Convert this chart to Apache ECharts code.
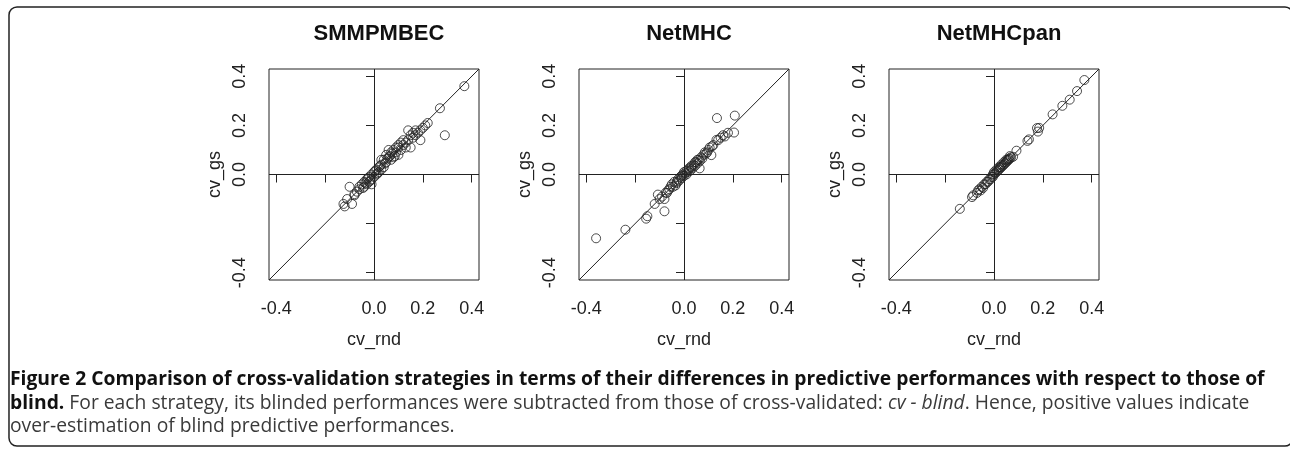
<!DOCTYPE html>
<html>
<head>
<meta charset="utf-8">
<script src="https://cdn.jsdelivr.net/npm/echarts@6/dist/echarts.min.js"></script>
<style>
html,body{margin:0;padding:0;background:#fff;}
#chart{width:1290px;height:450px;}
</style>
</head>
<body>
<div id="chart"></div>
<script>
// ---- data ----
const panelTitles = ['SMMPMBEC', 'NetMHC', 'NetMHCpan'];
const xAxisName = 'cv_rnd';
const yAxisName = 'cv_gs';
const axisMin = -0.43, axisMax = 0.43;
const tickValues = [-0.4, -0.2, 0, 0.2, 0.4];
const tickLabelValues = [-0.4, 0, 0.2, 0.4];

// SMMPMBEC: cv_rnd (x) vs cv_gs (y)
const smmpmbecRnd = [0.37,0.27,0.29,0.22,0.21,0.20,0.19,0.14,0.16,0.17,0.18,0.15,0.16,0.19,0.15,0.13,0.14,0.12,0.11,0.10,0.09,0.08,0.06,0.07,0.08,0.07,0.06,0.05,0.05,0.04,0.03,0.04,0.03,0.02,0.02,0.01,0.01,0.00,0.00,-0.01,-0.01,-0.02,-0.02,-0.03,-0.03,-0.04,-0.04,-0.05,-0.01,-0.06,-0.06,-0.07,-0.08,-0.10,-0.08,-0.11,-0.09,-0.12,-0.125,0.12,0.10,0.09,0.03,0.015,0.005,0.025,0.045,0.055,0.065,0.075,0.085,-0.015,-0.025,-0.035,-0.045,0.11,0.13,0.17,0.10];
const smmpmbecGs  = [0.36,0.27,0.16,0.21,0.20,0.19,0.18,0.18,0.17,0.18,0.17,0.16,0.15,0.14,0.11,0.13,0.14,0.12,0.10,0.11,0.09,0.10,0.10,0.09,0.07,0.06,0.07,0.08,0.05,0.06,0.06,0.03,0.04,0.03,0.01,0.02,0.00,0.01,-0.01,0.00,-0.02,-0.01,-0.03,-0.02,-0.04,-0.03,-0.05,-0.04,-0.04,-0.06,-0.05,-0.07,-0.08,-0.05,-0.085,-0.10,-0.12,-0.13,-0.12,0.14,0.08,0.11,0.02,0.005,0.015,0.035,0.045,0.065,0.075,0.085,0.075,-0.025,-0.015,-0.035,-0.055,0.13,0.11,0.16,0.12];

// NetMHC
const netmhcRnd = [-0.36,-0.24,-0.155,-0.15,-0.12,-0.107,-0.10,-0.08,-0.08,-0.075,-0.06,-0.05,-0.045,-0.04,-0.035,-0.03,-0.025,-0.02,-0.015,-0.01,-0.005,0.0,0.005,0.01,0.01,0.015,0.02,0.025,0.03,0.035,0.04,0.045,0.05,0.055,0.06,0.065,0.07,0.064,0.08,0.09,0.10,0.112,0.105,0.12,0.133,0.14,0.135,0.167,0.18,0.205,0.208,-0.065,-0.055,-0.07,-0.09,0.075,0.085,0.095,0.03,-0.01,0.0,0.02,0.045,0.055,-0.03,0.115,0.15,0.16];
const netmhcGs  = [-0.26,-0.225,-0.18,-0.17,-0.12,-0.082,-0.10,-0.15,-0.10,-0.074,-0.06,-0.04,-0.05,-0.03,-0.045,-0.03,-0.02,-0.025,-0.01,-0.015,0.0,-0.005,0.005,0.0,0.015,0.01,0.02,0.015,0.03,0.025,0.04,0.035,0.05,0.045,0.06,0.055,0.07,0.025,0.08,0.085,0.10,0.079,0.11,0.12,0.141,0.14,0.23,0.155,0.17,0.171,0.24,-0.065,-0.05,-0.075,-0.09,0.065,0.09,0.09,0.035,-0.005,0.01,0.025,0.05,0.06,-0.035,0.115,0.15,0.16];

// NetMHCpan
const netmhcpanRnd = [-0.14,-0.09,-0.085,-0.06,-0.055,-0.05,-0.045,-0.04,-0.035,-0.03,-0.025,-0.02,-0.015,-0.01,-0.005,0.0,0.0,0.005,0.01,0.01,0.015,0.02,0.02,0.025,0.03,0.03,0.035,0.04,0.04,0.045,0.05,0.05,0.055,0.06,0.065,0.07,0.078,0.092,0.137,0.143,0.176,0.18,0.185,0.24,0.28,0.31,0.34,0.37,-0.065,-0.07,0.065,0.06,-0.005,0.025,0.055];
const netmhcpanGs  = [-0.14,-0.092,-0.085,-0.06,-0.065,-0.05,-0.055,-0.04,-0.04,-0.03,-0.03,-0.02,-0.02,-0.01,-0.01,0.0,0.01,0.005,0.01,0.02,0.015,0.02,0.03,0.025,0.03,0.04,0.035,0.04,0.05,0.045,0.05,0.06,0.055,0.06,0.065,0.07,0.072,0.097,0.137,0.143,0.189,0.175,0.19,0.245,0.28,0.305,0.34,0.385,-0.065,-0.075,0.075,0.065,0.0,0.03,0.06];

const panelX = [smmpmbecRnd, netmhcRnd, netmhcpanRnd];
const panelY = [smmpmbecGs, netmhcGs, netmhcpanGs];

// ---- layout ----
const gridLefts = [269, 579, 889];
const gridTop = 69, gridW = 210, gridH = 211;
const ink = '#222';
const axisFont = 'Liberation Sans';

const grids = [], xAxes = [], yAxes = [], series = [], titles = [];
const fmt = v => Number(v).toFixed(1);

for (let i = 0; i < 3; i++) {
  grids.push({left: gridLefts[i], top: gridTop, width: gridW, height: gridH,
    show: true, borderColor: ink, borderWidth: 1, backgroundColor: 'transparent'});
  xAxes.push({
    type: 'value', gridIndex: i, min: axisMin, max: axisMax,
    name: xAxisName, nameLocation: 'middle', nameGap: 51,
    nameTextStyle: {fontFamily: axisFont, fontSize: 18, color: ink},
    axisLine: {show: false},
    axisTick: {show: true, length: 8, lineStyle: {color: ink, width: 1}, customValues: tickValues},
    axisLabel: {show: true, margin: 20, fontFamily: axisFont, fontSize: 18, color: ink,
      customValues: tickLabelValues, formatter: fmt},
    splitLine: {show: false}
  });
  yAxes.push({
    type: 'value', gridIndex: i, min: axisMin, max: axisMax,
    name: yAxisName, nameLocation: 'middle', nameGap: 45,
    nameTextStyle: {fontFamily: axisFont, fontSize: 18, color: ink},
    axisLine: {show: false},
    axisTick: {show: true, length: 8, lineStyle: {color: ink, width: 1}, customValues: tickValues},
    axisLabel: {show: true, margin: 20, rotate: 90, fontFamily: axisFont, fontSize: 18, color: ink,
      customValues: tickLabelValues, formatter: fmt},
    splitLine: {show: false}
  });
  const pts = panelX[i].map((x, k) => [x, panelY[i][k]]);
  series.push({
    type: 'scatter', xAxisIndex: i, yAxisIndex: i, data: pts,
    symbol: 'circle', symbolSize: 9, silent: true,
    itemStyle: {color: 'rgba(0,0,0,0)', borderColor: ink, borderWidth: 1},
    markLine: {silent: true, symbol: ['none', 'none'], label: {show: false},
      lineStyle: {color: ink, width: 1, type: 'solid'},
      data: [{xAxis: 0}, {yAxis: 0}]}
  });
  series.push({
    type: 'line', xAxisIndex: i, yAxisIndex: i, showSymbol: false, silent: true,
    data: [[axisMin, axisMin], [axisMax, axisMax]],
    lineStyle: {color: ink, width: 1}
  });
  titles.push({text: panelTitles[i], left: gridLefts[i] + gridW / 2, top: 18, textAlign: 'center',
    textStyle: {fontFamily: axisFont, fontWeight: 'bold', fontSize: 22, color: '#111'}});
}

const captionFont = '"Open Sans"';
const capSize = 19.3;
const caption1 = 'Figure 2 Comparison of cross-validation strategies in terms of their differences in predictive performances with respect to those of';
const caption2 = '{b|blind.} For each strategy, its blinded performances were subtracted from those of cross-validated: {i|cv - blind}. Hence, positive values indicate';
const caption3 = 'over-estimation of blind predictive performances.';

const option = {
  animation: false,
  backgroundColor: '#fff',
  title: titles,
  grid: grids,
  xAxis: xAxes,
  yAxis: yAxes,
  series: series,
  graphic: [
    {type: 'rect', silent: true, shape: {x: 9, y: 7, width: 1284, height: 439, r: 8},
      style: {fill: 'none', stroke: '#222', lineWidth: 1.5}},
    {type: 'text', silent: true, x: 10, y: 380,
      style: {text: caption1, fontFamily: captionFont, fontSize: capSize, fontWeight: 'bold', fill: '#111', verticalAlign: 'middle'}},
    {type: 'text', silent: true, x: 10, y: 404,
      style: {text: caption2, fontFamily: captionFont, fontSize: capSize, fill: '#3a3a3a', verticalAlign: 'middle',
        rich: {b: {fontFamily: captionFont, fontSize: capSize, fontWeight: 'bold', fill: '#111'},
               i: {fontFamily: captionFont, fontSize: capSize, fontStyle: 'italic', fill: '#3a3a3a'}}}},
    {type: 'text', silent: true, x: 10, y: 427,
      style: {text: caption3, fontFamily: captionFont, fontSize: capSize, fill: '#3a3a3a', verticalAlign: 'middle'}}
  ]
};

const chart = echarts.init(document.getElementById('chart'), null, {renderer: 'canvas'});
chart.setOption(option);
</script>
</body>
</html>
